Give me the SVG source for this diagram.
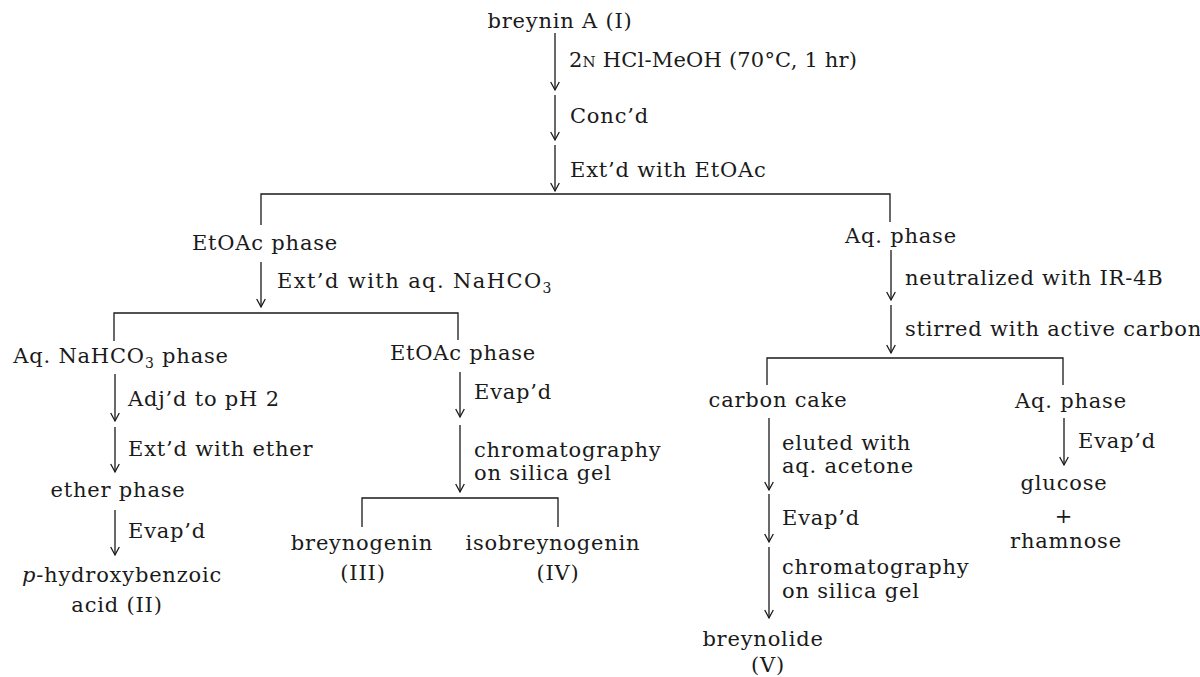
<svg xmlns="http://www.w3.org/2000/svg" width="1200" height="677" viewBox="0 0 1200 677">
<defs>
<marker id="ah" markerUnits="userSpaceOnUse" markerWidth="12" markerHeight="12" refX="0" refY="0" viewBox="-10 -6 12 12" orient="auto" overflow="visible">
<path d="M-8,-4.3 L0,0 L-8,4.3" fill="none" stroke="#1a1a1a" stroke-width="1.3"/>
</marker>
</defs>
<style>
text{font-family:"DejaVu Serif","Liberation Serif",serif;font-size:21px;letter-spacing:0.8px;fill:#1a1a1a}
.m{text-anchor:middle}
.sub{font-size:14px}
.sc{font-size:15px}
.a{stroke:#1a1a1a;stroke-width:1.3;fill:none;marker-end:url(#ah)}
.b{stroke:#1a1a1a;stroke-width:1.3;fill:none}
</style>
<rect width="1200" height="677" fill="#ffffff"/>
<g id="connectors">
<line class="a" x1="555" y1="33" x2="555" y2="90"/>
<line class="a" x1="555" y1="95" x2="555" y2="140"/>
<line class="a" x1="555" y1="145" x2="555" y2="191"/>
<path class="b" d="M261,225 V194 H890 V222"/>
<line class="a" x1="261" y1="262" x2="261" y2="307"/>
<path class="b" d="M114,341 V313 H458 V340"/>
<line class="a" x1="115" y1="374" x2="115" y2="421"/>
<line class="a" x1="115" y1="427" x2="115" y2="472"/>
<line class="a" x1="115" y1="510" x2="115" y2="555"/>
<line class="a" x1="460" y1="372" x2="460" y2="417"/>
<line class="a" x1="460" y1="425" x2="460" y2="492"/>
<path class="b" d="M362,527 V498 H558 V527"/>
<line class="a" x1="891" y1="250" x2="891" y2="300"/>
<line class="a" x1="891" y1="305" x2="891" y2="353"/>
<path class="b" d="M767,385 V358 H1063 V385"/>
<line class="a" x1="769" y1="418" x2="769" y2="490"/>
<line class="a" x1="769" y1="494" x2="769" y2="542"/>
<line class="a" x1="769" y1="547" x2="769" y2="618"/>
<line class="a" x1="1064" y1="418" x2="1064" y2="465"/>
</g>
<g id="step-labels">
<text x="569" y="67" style="letter-spacing:0.2px">2<tspan class="sc">N</tspan> HCl-MeOH (70°C, 1 hr)</text>
<text x="570" y="123">Conc’d</text>
<text x="570" y="177">Ext’d with EtOAc</text>
<text x="277" y="288" style="letter-spacing:1.4px">Ext’d with aq. NaHCO<tspan class="sub" dy="5">3</tspan></text>
<text x="128" y="406">Adj’d to pH 2</text>
<text x="128" y="456">Ext’d with ether</text>
<text x="128" y="538">Evap’d</text>
<text x="474" y="399">Evap’d</text>
<text x="474" y="457">chromatography</text>
<text x="474" y="480">on silica gel</text>
<text x="905" y="285">neutralized with IR-4B</text>
<text x="905" y="336">stirred with active carbon</text>
<text x="782" y="450">eluted with</text>
<text x="782" y="473">aq. acetone</text>
<text x="782" y="525">Evap’d</text>
<text x="782" y="574">chromatography</text>
<text x="782" y="598">on silica gel</text>
<text x="1078" y="448">Evap’d</text>
</g>
<g id="n-breynin"><text class="m" x="560" y="28">breynin A (I)</text></g>
<g id="n-etoac1"><text class="m" x="265" y="250">EtOAc phase</text></g>
<g id="n-aq1"><text class="m" x="901" y="243">Aq. phase</text></g>
<g id="n-nahco3"><text class="m" x="121" y="363">Aq. NaHCO<tspan class="sub" dy="5">3</tspan><tspan dy="-5"> phase</tspan></text></g>
<g id="n-etoac2"><text class="m" x="463" y="360">EtOAc phase</text></g>
<g id="n-ether"><text class="m" x="118" y="497">ether phase</text></g>
<g id="n-phba"><text class="m" x="122" y="582"><tspan font-style="italic">p</tspan>-hydroxybenzoic</text><text class="m" x="117" y="612">acid (II)</text></g>
<g id="n-breynogenin"><text class="m" x="362" y="550">breynogenin</text><text class="m" x="363" y="580">(III)</text></g>
<g id="n-isobreynogenin"><text class="m" x="553" y="550">isobreynogenin</text><text class="m" x="558" y="580">(IV)</text></g>
<g id="n-carbon"><text class="m" x="778" y="407">carbon cake</text></g>
<g id="n-aq2"><text class="m" x="1071" y="408">Aq. phase</text></g>
<g id="n-breynolide"><text class="m" x="763" y="646">breynolide</text><text class="m" x="768" y="672">(V)</text></g>
<g id="n-sugars"><text class="m" x="1064" y="490">glucose</text><text class="m" x="1064" y="523">+</text><text class="m" x="1066" y="548">rhamnose</text></g>
</svg>
